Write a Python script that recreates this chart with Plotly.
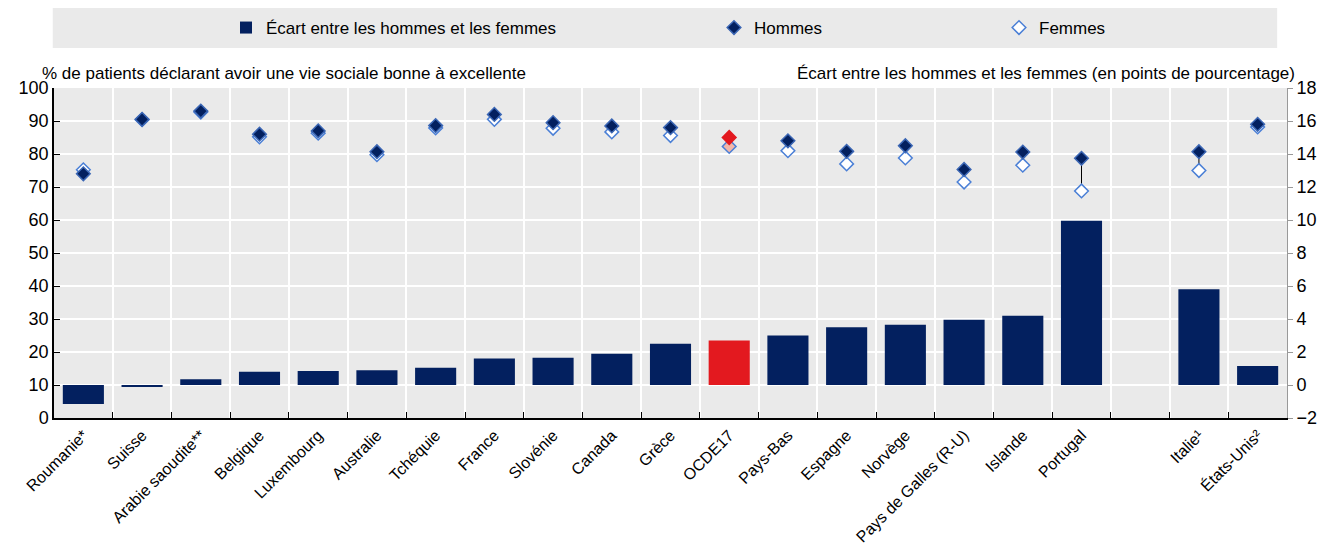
import plotly.graph_objects as go

# categories in display order, " " is the empty slot before Italie / Etats-Unis
countries = ["Roumanie*", "Suisse", "Arabie saoudite**", "Belgique", "Luxembourg", "Australie",
             "Tchéquie", "France", "Slovénie", "Canada", "Grèce", "OCDE17", "Pays-Bas", "Espagne",
             "Norvège", "Pays de Galles (R-U)", "Islande", "Portugal", " ", "Italie¹", "États-Unis²"]

# gap between men and women, percentage points (right axis)
gap = [-1.15, -0.1, 0.35, 0.8, 0.85, 0.9, 1.05, 1.6, 1.65, 1.9, 2.5, 2.7, 3.0, 3.5,
       3.65, 3.95, 4.2, 9.95, None, 5.8, 1.15]

# % reporting good to excellent social life (left axis)
men = [74.0, 90.5, 93.0, 86.0, 87.0, 80.7, 88.6, 92.0, 89.5, 88.5, 88.0, 85.0, 84.0, 80.8,
       82.5, 75.3, 80.6, 78.7, None, 80.7, 89.0]
women = [75.2, 90.4, 92.7, 85.2, 86.3, 79.8, 87.9, 90.5, 87.8, 86.7, 85.6, 82.3, 81.0, 77.0,
         78.8, 71.5, 76.6, 68.8, None, 75.0, 88.2]

NAVY = "#03205f"
RED = "#e3191f"
FONT = "Liberation Sans Narrow, Arial Narrow, Liberation Sans, Arial, sans-serif"

highlight = "OCDE17"
bar_colors = [RED if c == highlight else NAVY for c in countries]
men_fill = [RED if c == highlight else NAVY for c in countries]
men_line = [RED if c == highlight else "#3b66b4" for c in countries]
women_fill = ["#f2b7aa" if c == highlight else "white" for c in countries]

# vertical connectors between the two markers
link_x, link_y = [], []
for c, m, w in zip(countries, men, women):
    if m is None:
        continue
    link_x += [c, c, None]
    link_y += [m, w, None]

fig = go.Figure()

fig.add_trace(go.Bar(
    x=countries, y=gap, yaxis="y2", name="Écart entre les hommes et les femmes",
    marker=dict(color=bar_colors, line=dict(width=0)), legend="legend",
))
fig.add_trace(go.Scatter(
    x=link_x, y=link_y, mode="lines", line=dict(color="black", width=1),
    showlegend=False, hoverinfo="skip",
))
fig.add_trace(go.Scatter(
    x=countries, y=women, mode="markers", name="Femmes", legend="legend3",
    marker=dict(symbol="diamond", size=10.5, color=women_fill, line=dict(color="#4a7fd6", width=1.5)),
))
fig.add_trace(go.Scatter(
    x=countries, y=men, mode="markers", name="Hommes", legend="legend2",
    marker=dict(symbol="diamond", size=10.5, color=men_fill, line=dict(color=men_line, width=1.5)),
))

# the page body has an 8px margin, so container positions are shifted by 8px
legend_style = dict(xref="container", yref="container", yanchor="middle", y=1 - (28 - 8) / 547,
                    xanchor="left", bgcolor="rgba(0,0,0,0)", itemwidth=30,
                    font=dict(family=FONT, size=17, color="black"))

fig.update_layout(
    width=1333, height=547,
    margin=dict(l=46, r=54, t=80, b=137, autoexpand=False),
    paper_bgcolor="white", plot_bgcolor="#eaeaea",
    font=dict(family=FONT, size=17, color="black"),
    bargap=0.3,
    legend=dict(x=(245 - 27) / 1333, **legend_style),
    legend2=dict(x=(733 - 27) / 1333, **legend_style),
    legend3=dict(x=(1018 - 27) / 1333, **legend_style),
    xaxis=dict(
        type="category", categoryorder="array", categoryarray=countries,
        range=[-0.5, len(countries) - 0.5], automargin=False,
        tickangle=-45, tickson="boundaries", ticks="inside", ticklen=6, tickcolor="black",
        showline=True, linecolor="black", linewidth=1.5,
        showgrid=True, gridcolor="white", gridwidth=2,
        tickfont=dict(size=16),
    ),
    yaxis=dict(
        range=[0, 100], dtick=10, ticks="inside", ticklen=6, tickcolor="black",
        showline=True, linecolor="black", linewidth=1.5, automargin=False,
        showgrid=True, gridcolor="white", gridwidth=2, zeroline=False,
        tickfont=dict(size=18),
    ),
    yaxis2=dict(
        overlaying="y", side="right", range=[-2, 18], dtick=2, automargin=False,
        ticks="outside", ticklen=5, tickcolor="#999999",
        showline=True, linecolor="#999999", linewidth=1,
        showgrid=False, zeroline=False, tickfont=dict(size=18),
    ),
    shapes=[dict(type="rect", xref="paper", yref="paper", x0=-0.001, x1=0.992,
                 y0=(418 - 48) / 330, y1=(418 - 7) / 330,
                 fillcolor="#eaeaea", line=dict(width=0), layer="below")],
    annotations=[
        dict(text="% de patients déclarant avoir une vie sociale bonne à excellente",
             xref="paper", yref="paper", x=-0.011, y=(418 - 73) / 330, xanchor="left", yanchor="middle",
             showarrow=False, font=dict(size=17)),
        dict(text="Écart entre les hommes et les femmes (en points de pourcentage)",
             xref="paper", yref="paper", x=1.008, y=(418 - 73) / 330, xanchor="right", yanchor="middle",
             showarrow=False, font=dict(size=17)),
    ],
)

fig.write_html("out.html")
